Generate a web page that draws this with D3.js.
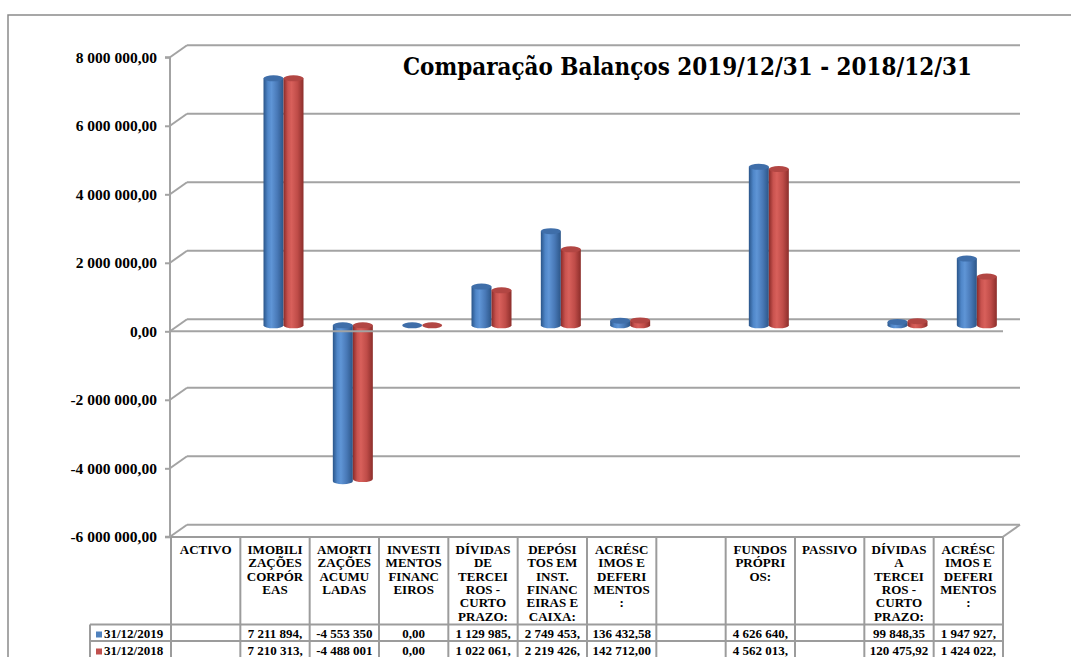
<!DOCTYPE html>
<html><head><meta charset="utf-8">
<script src="https://cdn.jsdelivr.net/npm/d3@7"></script>
<style>
html,body{margin:0;padding:0;background:#fff;}
svg{display:block;}
</style></head>
<body>
<script>
// ---------- DATA ----------
const categories = ["ACTIVO","IMOBILIZAÇÕES CORPÓREAS","AMORTIZAÇÕES ACUMULADAS","INVESTIMENTOS FINANCEIROS",
  "DÍVIDAS DE TERCEIROS - CURTO PRAZO:","DEPÓSITOS EM INST. FINANCEIRAS E CAIXA:","ACRÉSCIMOS E DEFERIMENTOS:",
  "","FUNDOS PRÓPRIOS:","PASSIVO","DÍVIDAS A TERCEIROS - CURTO PRAZO:","ACRÉSCIMOS E DEFERIMENTOS: "];
const headerLines = [["ACTIVO"],["IMOBILI","ZAÇÕES","CORPÓR","EAS"],["AMORTI","ZAÇÕES","ACUMU","LADAS"],
  ["INVESTI","MENTOS","FINANC","EIROS"],["DÍVIDAS","DE","TERCEI","ROS -","CURTO","PRAZO:"],
  ["DEPÓSI","TOS EM","INST.","FINANC","EIRAS E","CAIXA:"],["ACRÉSC","IMOS E","DEFERI","MENTOS",":"],
  [""],["FUNDOS","PRÓPRI","OS:"],["PASSIVO"],["DÍVIDAS","A","TERCEI","ROS -","CURTO","PRAZO:"],
  ["ACRÉSC","IMOS E","DEFERI","MENTOS",":"]];
const seriesNames = ["31/12/2019","31/12/2018"];
const values2019 = [null, 7211894, -4553350, 0, 1129985, 2749453, 136432.58, null, 4626640, null, 99848.35, 1947927];
const values2018 = [null, 7210313, -4488001, 0, 1022061, 2219426, 142712.00, null, 4562013, null, 120475.92, 1424022];
const labels2019 = ["", "7 211 894,", "-4 553 350", "0,00", "1 129 985,", "2 749 453,", "136 432,58", "", "4 626 640,", "", "99 848,35", "1 947 927,"];
const labels2018 = ["", "7 210 313,", "-4 488 001", "0,00", "1 022 061,", "2 219 426,", "142 712,00", "", "4 562 013,", "", "120 475,92", "1 424 022,"];
const yTicks = [-6000000,-4000000,-2000000,0,2000000,4000000,6000000,8000000];
const title = "Comparação Balanços 2019/12/31 - 2018/12/31";

// ---------- LAYOUT ----------
const W = 1071, H = 657;
const svg = d3.select("body").append("svg").attr("width", W).attr("height", H)
  .attr("font-weight", "bold");
const colors = ["#4F81BD", "#C0504D"];
const grid = "#a3a3a3";
const depth = {dx: 17, dy: -12};

const y = d3.scaleLinear().domain([-6000000, 8000000]).range([536.8, 57.3]);
const x = d3.scaleBand().domain(d3.range(categories.length)).range([171, 1003]).padding(0);
const xs = d3.scaleBand().domain([0,1]).range([0, 40]);
const barOffset = (x.bandwidth() - 40) / 2 + depth.dx / 2;

svg.append("path").attr("d", `M8,${H} L8,15 L${W},15`).attr("fill","none").attr("stroke","#8a8a8a").attr("stroke-width",1.5);

const g = svg.append("g");
yTicks.forEach(t => {
  const yy = y(t);
  g.append("line").attr("x1", 170).attr("y1", yy).attr("x2", 170 + depth.dx).attr("y2", yy + depth.dy)
    .attr("stroke", grid).attr("stroke-width", 2);
  g.append("line").attr("x1", 170 + depth.dx).attr("y1", yy + depth.dy).attr("x2", 1003 + depth.dx).attr("y2", yy + depth.dy)
    .attr("stroke", grid).attr("stroke-width", 2);
});
g.append("line").attr("x1", 1003).attr("y1", y(-6000000)).attr("x2", 1003 + depth.dx).attr("y2", y(-6000000) + depth.dy)
  .attr("stroke", grid).attr("stroke-width", 2);

const defs = svg.append("defs");
const gradStops = [
  [["0%","#2a5589"],["22%","#4f86c8"],["40%","#5f95d6"],["70%","#4878b6"],["100%","#2c5688"]],
  [["0%","#8a2b29"],["22%","#c9534f"],["40%","#d8605b"],["70%","#bf4c48"],["100%","#8c2e2b"]]
];
gradStops.forEach((st, i) => {
  const lg = defs.append("linearGradient").attr("id", "cyl" + i).attr("x1","0%").attr("x2","100%").attr("y1","0%").attr("y2","0%");
  st.forEach(s => lg.append("stop").attr("offset", s[0]).attr("stop-color", s[1]));
});
const topColors = ["#3f6ea9", "#b24643"];

const ry = 3;
const series = [values2019, values2018];
const bars = svg.append("g");
categories.forEach((c, ci) => {
  series.forEach((vals, si) => {
    const v = vals[ci];
    if (v === null) return;
    const x0 = x(ci) + barOffset + xs(si);
    const w = xs.bandwidth();
    const rx = w / 2;
    const y0 = y(0) + depth.dy / 2;
    const yv = y(v) + depth.dy / 2;
    const yTop = Math.min(y0, yv), yBot = Math.max(y0, yv);
    if (yBot - yTop > 0.5) {
      bars.append("path")
        .attr("d", `M${x0},${yTop} L${x0},${yBot} A${rx},${ry} 0 0 0 ${x0 + w},${yBot} L${x0 + w},${yTop} Z`)
        .attr("fill", `url(#cyl${si})`);
    }
    bars.append("ellipse").attr("cx", x0 + rx).attr("cy", yTop).attr("rx", rx).attr("ry", ry)
      .attr("fill", topColors[si]);
  });
});

svg.append("line").attr("x1", 170).attr("y1", y(0)).attr("x2", 1003).attr("y2", y(0)).attr("stroke", grid).attr("stroke-width", 2);

const loc = d3.formatLocale({decimal: ",", thousands: " ", grouping: [3], currency: ["", ""], minus: "-"});
const yAxis = d3.axisLeft(y).tickValues(yTicks).tickFormat(loc.format(",.2f")).tickSize(5).tickPadding(8);
const ax = svg.append("g").attr("transform", "translate(170,0)").call(yAxis)
  .attr("font-family", "Times New Roman").attr("font-size", 15.5);
ax.select(".domain").attr("stroke", grid).attr("stroke-width", 2).attr("d", `M-5,${y(8000000)}H0V${y(-6000000)}H-5`);
ax.selectAll(".tick line").attr("stroke", grid).attr("stroke-width", 2);
ax.selectAll(".tick text").attr("fill", "#000");

svg.append("text").attr("x", 403).attr("y", 75).attr("font-family", "DejaVu Serif").attr("font-size", 24)
  .attr("textLength", 569).attr("lengthAdjust", "spacingAndGlyphs").text(title);

const tb = svg.append("g").attr("font-family", "Times New Roman").attr("font-size", 13);
const tTop = 537, hBot = 624.5, r1 = 641;
const tl = (x1, y1, x2, y2) => tb.append("line").attr("x1", x1).attr("y1", y1).attr("x2", x2).attr("y2", y2)
  .attr("stroke", "#9c9c9c").attr("stroke-width", 2);
tl(171, tTop, 1003, tTop);
tl(90, hBot, 1003, hBot);
tl(90, r1, 1003, r1);
tl(90, hBot, 90, H);
categories.forEach((c, ci) => tl(x(ci), tTop, x(ci), H));
tl(1003, tTop, 1003, H);

headerLines.forEach((lines, ci) => {
  const cx = x(ci) + x.bandwidth() / 2;
  lines.forEach((ln, li) => {
    tb.append("text").attr("x", cx).attr("y", 554 + li * 13.3).attr("text-anchor", "middle").text(ln);
  });
});
[labels2019, labels2018].forEach((labs, si) => {
  const by = si === 0 ? 637.5 : 654.5;
  labs.forEach((lb, ci) => {
    if (!lb) return;
    tb.append("text").attr("x", x(ci) + x.bandwidth() / 2).attr("y", by).attr("text-anchor", "middle").text(lb);
  });
  tb.append("rect").attr("x", 96).attr("y", by - 6).attr("width", 6).attr("height", 6).attr("fill", colors[si]);
  tb.append("text").attr("x", 104).attr("y", by).text(seriesNames[si]);
});
</script>
</body></html>
